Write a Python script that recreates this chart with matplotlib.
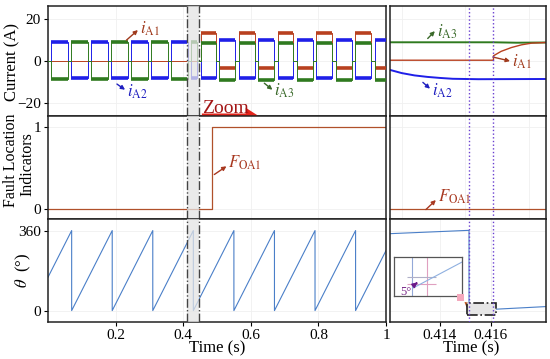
import matplotlib
matplotlib.use("Agg")
import matplotlib.pyplot as plt
from matplotlib.patches import Rectangle

plt.rcParams['font.family'] = ['Liberation Serif', 'DejaVu Serif']
plt.rcParams['mathtext.fontset'] = 'stix'

# ---------------- data ----------------
# left current panel: switching instants (s) and plateau levels (A)
pre_edges = [0.004, 0.064, 0.123, 0.182, 0.241, 0.300, 0.359, 0.418, 0.447]
pre_iA1 = [0, 0, 0, 0, 0, 0, 0, 0]
pre_iA2 = [8.8, -8.0, 8.8, -8.0, 8.8, -8.0, 8.8, -8.0]
pre_iA3 = [-8.5, 9.0, -8.5, 9.0, -8.5, 9.0, -8.5, 9.0]
post_edges = [0.447, 0.502, 0.559, 0.616, 0.674, 0.731, 0.789, 0.846, 0.904, 0.961, 1.02]
post_iA1 = [13.2, -3.5, 13.2, -3.5, 13.2, -3.5, 13.2, -3.5, 13.2, -3.5]
post_iA2 = [-8.0, 10.0, -8.0, 10.0, -8.0, 10.0, -8.0, 10.0, -8.0, 10.0]
post_iA3 = [8.5, -9.3, 8.5, -9.3, 8.5, -9.3, 8.5, -9.3, 8.5, -9.3]
plateau_gap = 0.005

# left fault indicator
F_t = [0.0, 0.485, 0.485, 1.0]
F_val = [0, 0, 1, 1]

# left rotor angle: wrap instants
theta_wrap_t = [0.07, 0.19, 0.31, 0.43, 0.55, 0.67, 0.79, 0.91]
theta_start = 150
theta_end = 270

# right (zoomed) panels
r_t_A1 = [0.41204, 0.4161, 0.4161, 0.4164, 0.4168, 0.4172, 0.4176, 0.41816]
r_iA1 = [0.3, 0.3, 2.4, 4.5, 6.3, 7.6, 8.4, 8.7]
r_t_A2 = [0.41204, 0.4125, 0.4130, 0.4135, 0.4140, 0.4145, 0.4155, 0.41816]
r_iA2 = [-4.3, -5.8, -6.9, -7.6, -8.1, -8.5, -8.7, -8.6]
r_t_A3 = [0.41204, 0.4161, 0.4170, 0.41816]
r_iA3 = [8.8, 8.8, 8.6, 8.7]
r_F_t = [0.41204, 0.41816]
r_F = [0, 0]
r_th_t = [0.41204, 0.41514, 0.41514, 0.41816]
r_th = [346, 361, 0, 18]
fault_marks = [0.41514, 0.4161]

ins_t = [0.41519, 0.41848]
ins_th = [4.1, 17.4]

# ---------------- colours ----------------
c1 = '#b8401f'
c2 = '#1f1fe8'
c3 = '#2f7a1f'
cth = '#4a7fc8'
cF = '#b0502a'

fig = plt.figure(figsize=(5.5, 3.59), dpi=100)
W, H = 550.0, 359.0


def rect(x0, y0, x1, y1):
    return [x0 / W, 1 - y1 / H, (x1 - x0) / W, (y1 - y0) / H]


axL1 = fig.add_axes(rect(48, 6, 386, 115.7))
axL2 = fig.add_axes(rect(48, 115.7, 386, 219))
axL3 = fig.add_axes(rect(48, 219, 386, 321.7))
axR1 = fig.add_axes(rect(390, 6, 546, 115.7))
axR2 = fig.add_axes(rect(390, 115.7, 546, 219))
axR3 = fig.add_axes(rect(390, 219, 546, 321.7))

for ax in (axL1, axL2, axL3, axR1, axR2, axR3):
    for s in ax.spines.values():
        s.set_linewidth(1.1)
        s.set_color('#222222')
    ax.tick_params(direction='out', length=3, width=0.8, labelsize=11, pad=2)
    ax.grid(True, color='#f0f0f0', lw=0.6)
    ax.set_axisbelow(True)

for ax in (axL1, axL2, axL3):
    ax.set_xlim(0, 1)
for ax in (axR1, axR2, axR3):
    ax.set_xlim(0.41204, 0.41816)
for ax in (axL1, axR1):
    ax.set_ylim(-26, 26)
    ax.set_yticks([-20, 0, 20])
for ax in (axL2, axR2):
    ax.set_ylim(-0.12, 1.134)
    ax.set_yticks([0, 1])
for ax in (axL3, axR3):
    ax.set_ylim(-50, 412)
    ax.set_yticks([0, 360])
for ax in (axR1, axR2, axR3):
    ax.tick_params(axis='y', left=False, labelleft=False)
for ax in (axL1, axL2, axR1, axR2):
    ax.tick_params(axis='x', bottom=False, labelbottom=False)

axL1.set_yticklabels(['\u221220', '0', '20'])
axL3.set_xticks([0.2, 0.4, 0.6, 0.8, 1.0])
axL3.set_xticklabels(['0.2', '0.4', '0.6', '0.8', '1'])
axR3.set_xticks([0.414, 0.416])
axR3.set_xticklabels(['0.414', '0.416'])


# ---------------- left currents ----------------
def step_series(edges, levels, gap):
    xs, ys = [edges[0] - gap], [0.0]
    for i, L in enumerate(levels):
        a, b = edges[i] + gap, edges[i + 1] - gap
        xs += [a, a, b, b]
        ys += [0.0, L, L, 0.0]
    return xs, ys


for edges, lv, col in ((pre_edges, pre_iA1, c1), (post_edges, post_iA1, c1),
                       (pre_edges, pre_iA2, c2), (post_edges, post_iA2, c2),
                       (pre_edges, pre_iA3, c3), (post_edges, post_iA3, c3)):
    xs, ys = step_series(edges, lv, plateau_gap)
    axL1.plot(xs, ys, color=col, lw=0.7, zorder=3)
    for i, L in enumerate(lv):
        if L != 0:
            axL1.hlines(L, edges[i] + plateau_gap, edges[i + 1] - plateau_gap,
                        color=col, lw=2.6, zorder=3)

# ---------------- left indicator ----------------
axL2.plot(F_t, F_val, color=cF, lw=0.9)

# ---------------- left theta ----------------
th_x, th_y = [0.0], [theta_start]
for tw in theta_wrap_t:
    th_x += [tw, tw]
    th_y += [360, 0]
th_x.append(1.0)
th_y.append(theta_end)
axL3.plot(th_x, th_y, color=cth, lw=0.8)

# zoom band
for ax in (axL1, axL2, axL3):
    ax.axvspan(0.412, 0.447, color='#e4e4e4', alpha=0.75, zorder=5, lw=0)
    for xv in (0.412, 0.447):
        ax.axvline(xv, color='#444444', ls='-.', lw=1.0, zorder=6)

# ---------------- right panels ----------------
axR1.plot(r_t_A3, r_iA3, color=c3, lw=1.4)
axR1.plot(r_t_A2, r_iA2, color=c2, lw=1.4)
axR1.plot(r_t_A1, r_iA1, color=c1, lw=1.0)
axR2.plot(r_F_t, r_F, color=cF, lw=0.9)
axR3.plot(r_th_t, r_th, color=cth, lw=0.8)
for ax in (axR1, axR2, axR3):
    for xv in fault_marks:
        ax.axvline(xv, color='#6a3fd0', ls=':', lw=1.0, zorder=6)

axR3.add_patch(Rectangle((0.41506, -19), 0.00114, 55, facecolor='#e6e6e6',
                         edgecolor='#222222', ls='-.', lw=1.2, zorder=4))

# inset
axI = fig.add_axes(rect(394, 257, 462, 296))
axI.set_xlim(0.41391, 0.41848)
axI.set_ylim(0, 20)
axI.set_xticks([])
axI.set_yticks([])
for s in axI.spines.values():
    s.set_linewidth(0.9)
    s.set_color('#555555')
axI.axvline(fault_marks[0], color='#93a8d8', lw=0.8)
axI.axvline(fault_marks[1], color='#e0a0c0', lw=0.8)
axI.hlines([6.2, 9.6], 0.4148, 0.41675, colors=['#e0a0c0', '#b0b0c8'], lw=0.8)
axI.plot(ins_t, ins_th, color='#8fb0e0', lw=0.8)
axI.annotate('5\u00b0', xy=(0.4155, 7.0), xytext=(0.41470, 2.3), color='#7a2a8a',
             fontsize=9, va='center', ha='center',
             arrowprops=dict(arrowstyle='-|>', color='#6a1a8a', lw=1.2, mutation_scale=7))

fig.patches.append(Rectangle((457 / W, 1 - 301 / H), 7 / W, 7 / H, transform=fig.transFigure,
                             facecolor='#f4a8bc', edgecolor='none', zorder=10))
axR3.annotate('', xy=(0.41487, 48), xytext=(0.41510, 25), annotation_clip=False,
              arrowprops=dict(arrowstyle='-|>', color='#c0602c', lw=0.9, mutation_scale=7))


# ---------------- annotations ----------------
def lab(ax, text, xy_text, xy_tail, xy_head, col, size=12):
    ax.annotate('', xy=xy_head, xytext=xy_tail,
                arrowprops=dict(arrowstyle='-|>', color=col, lw=1.0, mutation_scale=6,
                                shrinkA=0, shrinkB=0))
    ax.text(xy_text[0], xy_text[1], text, color=col, fontsize=size, ha='left', va='center')


lab(axL1, r'$i_{\rm A1}$', (0.272, 15.1), (0.232, 9.8), (0.266, 14.6), '#a03a1c')
lab(axL1, r'$i_{\rm A2}$', (0.234, -14.9), (0.204, -11.0), (0.228, -13.7), '#2020c0')
lab(axL1, r'$i_{\rm A3}$', (0.670, -14.0), (0.640, -10.6), (0.664, -13.7), '#3a6a2a')
lab(axR1, r'$i_{\rm A3}$', (0.41388, 13.7), (0.41352, 10.6), (0.41380, 14.1), '#3a6a2a')
lab(axR1, r'$i_{\rm A1}$', (0.41682, -0.6), (0.41608, 1.8), (0.41675, -0.1), '#a03a1c')
lab(axR1, r'$i_{\rm A2}$', (0.41369, -14.0), (0.41333, -10.2), (0.41361, -13.2), '#2020c0')
lab(axL2, r'$F_{\rm OA1}$', (0.534, 0.56), (0.492, 0.42), (0.528, 0.52), '#a83820')
lab(axR2, r'$F_{\rm OA1}$', (0.41392, 0.146), (0.41345, -0.005), (0.41384, 0.11), '#a83820')

# Zoom arrow & text
axL1.annotate('', xy=(0.63, -26), xytext=(0.447, -26), annotation_clip=False,
              arrowprops=dict(arrowstyle='simple,head_length=0.9,head_width=1.15,tail_width=0.32',
                              color='#e3241b', mutation_scale=10, lw=0), zorder=12)
axL1.text(0.455, -24.6, 'Zoom', color='#a31515', fontsize=14, ha='left', va='baseline',
          zorder=12, clip_on=False)

# axis labels
fig.text(12 / W, 1 - 62 / H, 'Current (A)', rotation=90, ha='center', va='center', fontsize=12)
fig.text(11 / W, 1 - 160 / H, 'Fault Location', rotation=90, ha='center', va='center', fontsize=11.5)
fig.text(27 / W, 1 - 164 / H, 'Indicators', rotation=90, ha='center', va='center', fontsize=11.5)
fig.text(23 / W, 1 - 270 / H, r'$\theta$  (°)', rotation=90, ha='center', va='center', fontsize=12)
fig.text(217 / W, 1 - 348 / H, 'Time (s)', ha='center', va='center', fontsize=12)
fig.text(471 / W, 1 - 348 / H, 'Time (s)', ha='center', va='center', fontsize=12)

fig.savefig('out.png', dpi=100)
